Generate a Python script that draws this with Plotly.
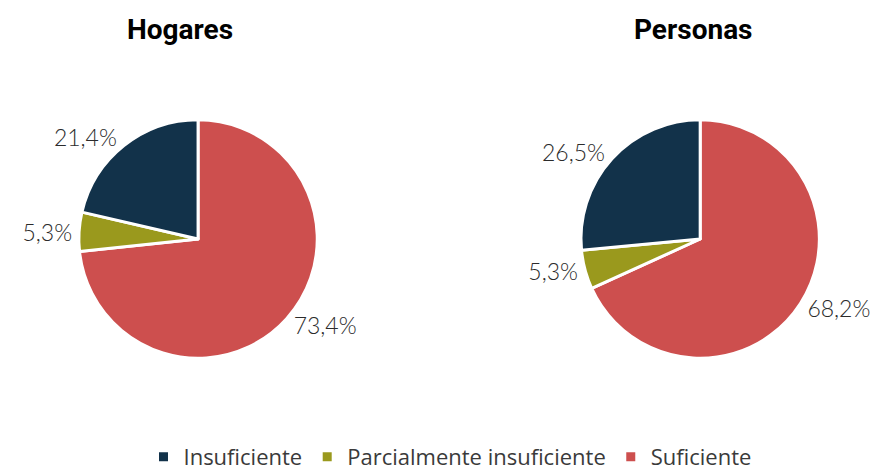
import plotly.graph_objects as go

# share of households / persons by category (percent), clockwise from 12 o'clock
categorias = ["Suficiente", "Parcialmente insuficiente", "Insuficiente"]
hogares = [73.4, 5.3, 21.4]
personas = [68.2, 5.3, 26.5]
titulos = ["Hogares", "Personas"]

colores = ["#cd4f4e", "#9a991d", "#12324a"]

fig = go.Figure()

fig.add_trace(go.Pie(
    labels=categorias,
    values=hogares,
    name=titulos[0],
    sort=False,
    direction="clockwise",
    rotation=0,
    marker=dict(colors=colores, line=dict(color="white", width=3)),
    texttemplate="%{value:.1f}%",
    textposition="outside",
    textfont=dict(family="Lato", size=23, color="#2b2b2b", weight=300),
    domain=dict(x=[0.04, 0.39], y=[0.2549, 0.7621]),
    hoverinfo="label+value",
))

fig.add_trace(go.Pie(
    labels=categorias,
    values=personas,
    name=titulos[1],
    sort=False,
    direction="clockwise",
    rotation=0,
    marker=dict(colors=colores, line=dict(color="white", width=3)),
    texttemplate="%{value:.1f}%",
    textposition="outside",
    textfont=dict(family="Lato", size=23, color="#2b2b2b", weight=300),
    domain=dict(x=[0.608, 0.958], y=[0.2549, 0.7621]),
    hoverinfo="label+value",
    showlegend=False,
))

fig.add_annotation(text="<b>" + titulos[0] + "</b>", x=0.195, y=0.954, xref="paper", yref="paper",
                   xanchor="center", yanchor="middle",
                   showarrow=False, font=dict(family="Roboto", size=28, color="#000000"))
fig.add_annotation(text="<b>" + titulos[1] + "</b>", x=0.775, y=0.954, xref="paper", yref="paper",
                   xanchor="center", yanchor="middle",
                   showarrow=False, font=dict(family="Roboto", size=28, color="#000000"))

fig.update_layout(
    width=884,
    height=470,
    separators=",.",
    margin=dict(l=0, r=0, t=0, b=0, autoexpand=False),
    paper_bgcolor="white",
    plot_bgcolor="white",
    legend=dict(
        orientation="h",
        traceorder="reversed",
        x=0.5,
        xanchor="center",
        y=0.0,
        yanchor="bottom",
        font=dict(family="Open Sans", size=22, color="#3a3a3a"),
    ),
)

fig.write_html("out.html")
